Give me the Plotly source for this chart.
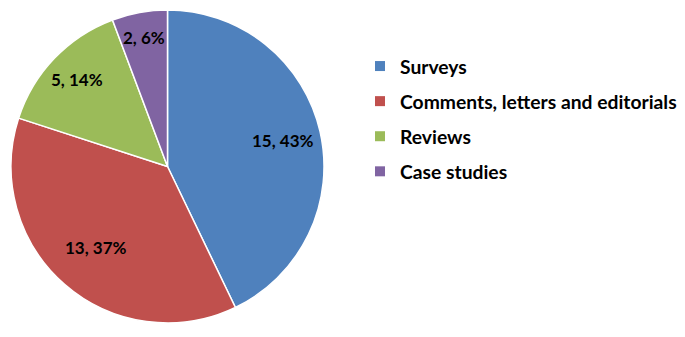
import math
import plotly.graph_objects as go

categories = ["Surveys", "Comments, letters and editorials", "Reviews", "Case studies"]
values = [15, 13, 5, 2]
percents = ["43%", "37%", "14%", "6%"]
colors = ["#4F81BD", "#C0504D", "#9BBB59", "#8064A2"]

labels_text = [f"{v}, {p}" for v, p in zip(values, percents)]

W, H = 685, 337
OFF = 8  # page body margin offset
# pie geometry in page pixels
CX, CY, R = 167.5, 166.5, 156.5
label_r_frac = [0.76, 0.69, 0.80, 0.84]

fig = go.Figure()
fig.add_trace(go.Pie(
    labels=categories, values=values,
    textinfo="none",
    sort=False, direction="clockwise", rotation=0,
    marker=dict(colors=colors, line=dict(color="white", width=1.5)),
    showlegend=False, hoverinfo="label+value+percent",
    domain=dict(x=[(CX - R - OFF) / W, (CX + R - OFF) / W],
                y=[(H - (CY + R) + OFF) / H, (H - (CY - R) + OFF) / H]),
))

total = sum(values)
cum = 0
for v, t, fr in zip(values, labels_text, label_r_frac):
    mid = (cum + v / 2) / total * 2 * math.pi
    cum += v
    px = CX + fr * R * math.sin(mid) - OFF
    py = CY - fr * R * math.cos(mid) - OFF
    fig.add_annotation(x=px / W, y=1 - py / H, xref="paper", yref="paper",
                       text=t, showarrow=False, xanchor="center", yanchor="middle",
                       font=dict(family="Lato", size=17, color="black", weight="bold"))

for i, (c, col) in enumerate(zip(categories, colors)):
    fig.add_trace(go.Scatter(
        x=[None], y=[None], mode="markers", name=c, legendgroup=str(i),
        marker=dict(symbol="square", color=col, size=10),
        showlegend=True,
    ))

fig.update_layout(
    width=W, height=H,
    margin=dict(l=0, r=0, t=0, b=0),
    paper_bgcolor="white", plot_bgcolor="white",
    xaxis=dict(visible=False), yaxis=dict(visible=False),
    legend=dict(x=(360 - OFF) / W, y=1 - (47 - OFF) / H, xanchor="left", yanchor="top",
                font=dict(family="Lato", size=19.3, color="black", weight="bold"),
                tracegroupgap=7, itemwidth=30, bgcolor="rgba(0,0,0,0)"),
)
fig.write_html("out.html")
